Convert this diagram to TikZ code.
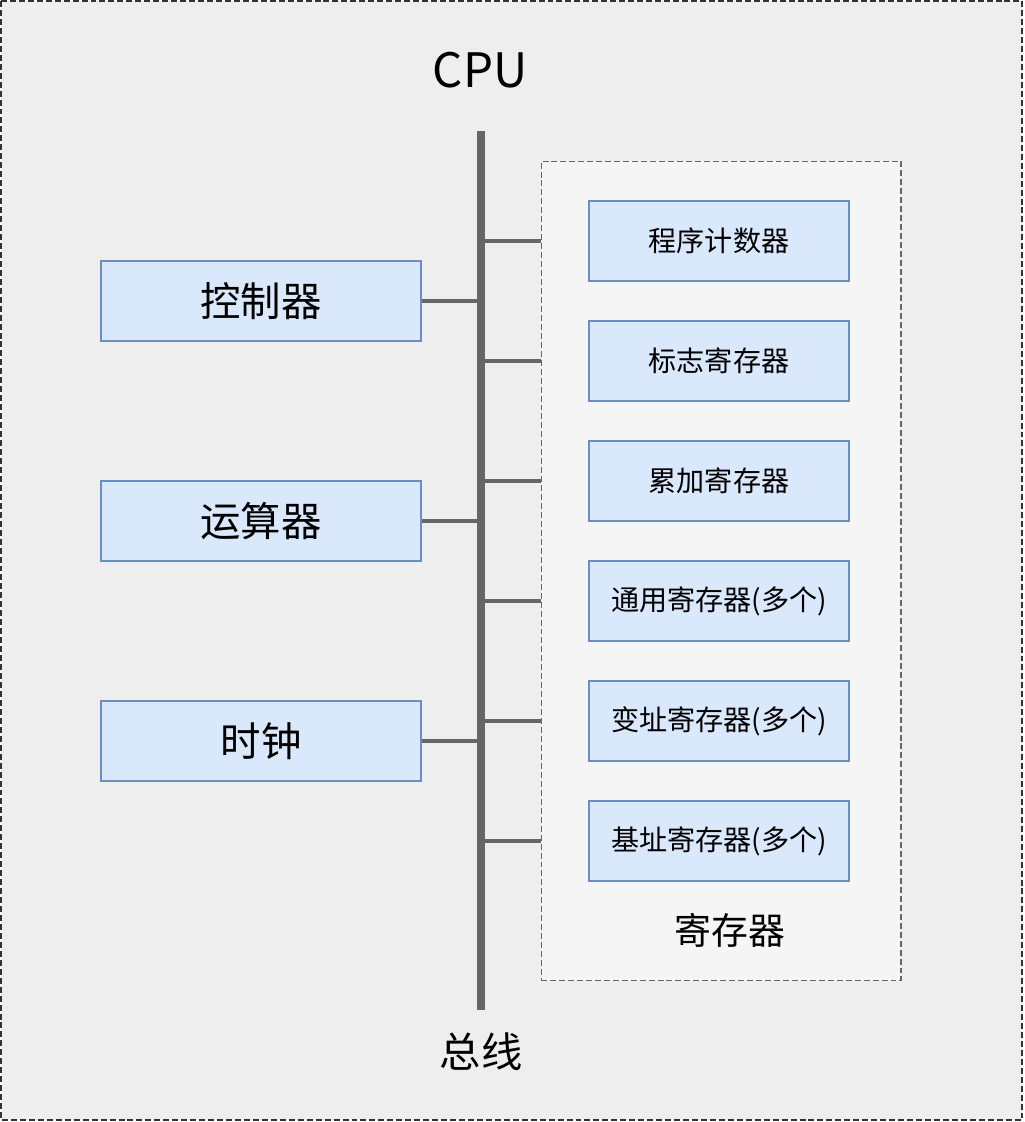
\documentclass[tikz,border=0pt]{standalone}
\usepackage{fontspec}
\setmainfont{Noto Sans CJK SC}
\usepackage{xcolor}
\usepackage{tikz}
\usetikzlibrary{calc,positioning}

\definecolor{cpubg}{HTML}{EEEEEE}
\definecolor{grpbg}{HTML}{F5F5F5}
\definecolor{boxfill}{HTML}{DAE8FC}
\definecolor{boxline}{HTML}{6C8EBF}
\definecolor{busgray}{HTML}{666666}

\tikzset{
  unit/.style={draw=boxline,fill=boxfill,line width=1.1pt,minimum width=6.4cm,minimum height=1.6cm,font=\fontsize{23}{27}\selectfont},
  regbox/.style={unit,minimum width=5.2cm,font=\fontsize{16}{19}\selectfont},
  stub/.style={draw=busgray,line width=2.8pt},
  frame/.style={draw=black!80,fill=cpubg,line width=0.6pt,dash pattern=on 3.4pt off 1.7pt}
}

\begin{document}
\begin{tikzpicture}[x=0.02cm,y=-0.02cm]
\useasboundingbox (0,0) rectangle (1024,1122);
\draw[frame] (1,1) rectangle (1022,1120);
\node[font=\fontsize{27}{31}\selectfont] (cpu) at (480,70) {CPU};
\node[frame,draw=black!60,fill=grpbg,minimum width=7.2cm,minimum height=16.4cm] (regs) at (721,571) {};
\coordinate (bustop) at (481,131);
\coordinate (busbot) at (481,1010);
\draw[busgray,line width=4.5pt] (bustop) -- (busbot);
\node[font=\fontsize{23.5}{27}\selectfont] (buslab) at (481,1052) {总线};
% left side
\node[unit] (ctrl) at (261,301) {控制器};
\node[unit] (alu) at (261,521) {运算器};
\node[unit] (clk) at (261,741) {时钟};
\foreach \n in {ctrl,alu,clk}
{\draw[stub] (\n.east) -- (\n.east -| bustop);}
% registers
\foreach \i/\y/\lab in {1/241/程序计数器,2/361/标志寄存器,3/481/累加寄存器,4/601/通用寄存器(多个),5/721/变址寄存器(多个),6/841/基址寄存器(多个)}
{\node[regbox] (r\i) at (719,\y) {\lab};
 \draw[stub] (r\i.west -| bustop) -- (r\i.west -| regs.west);}
\node[font=\fontsize{21}{25}\selectfont] (reglab) at (730,930) {寄存器};
\end{tikzpicture}
\end{document}
